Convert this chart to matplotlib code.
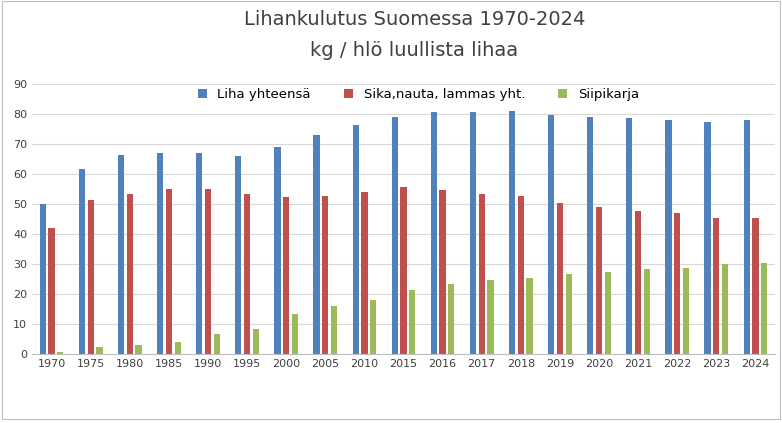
import matplotlib
matplotlib.use("Agg")
import matplotlib.pyplot as plt
import numpy as np

years = ["1970","1975","1980","1985","1990","1995","2000","2005","2010","2015","2016","2017","2018","2019","2020","2021","2022","2023","2024"]
liha = [50.2,61.8,66.5,67.2,67.2,66.0,69.2,73.0,76.3,79.0,80.8,80.8,81.0,79.8,79.0,78.8,78.2,77.3,78.0]
sika = [42.0,51.3,53.4,55.2,55.1,53.3,52.5,52.7,54.0,55.8,54.7,53.5,52.7,50.5,49.0,47.7,47.0,45.5,45.4]
siipi = [0.8,2.3,3.0,4.0,6.8,8.5,13.2,16.0,18.0,21.3,23.4,24.8,25.5,26.7,27.4,28.3,28.8,30.0,30.5]

fig = plt.figure(figsize=(7.82,4.23), dpi=100)
ax = fig.add_axes([0.041, 0.163, 0.95, 0.638])
x = np.arange(len(years))
w = 0.16
ax.bar(x-1.4*w, liha, w, color="#4F81BD", label="Liha yhteensä")
ax.bar(x, sika, w, color="#C0504D", label="Sika,nauta, lammas yht.")
ax.bar(x+1.4*w, siipi, w, color="#9BBB59", label="Siipikarja")
ax.set_ylim(0,90)
ax.set_yticks(range(0,91,10))
ax.set_xlim(-0.5, len(years)-0.5)
ax.set_xticks(x)
ax.set_xticklabels(years)
ax.tick_params(labelsize=8, length=0, colors="#404040")
ax.yaxis.grid(True, color="#D9D9D9", lw=0.8)
ax.set_axisbelow(True)
for s in ["top","right","left"]:
    ax.spines[s].set_visible(False)
ax.spines["bottom"].set_color("#BFBFBF")
ax.legend(loc="upper center", bbox_to_anchor=(0.52,1.03), ncol=3, frameon=False, fontsize=9.5, handlelength=0.7, columnspacing=2.5)
fig.text(0.53, 0.955, "Lihankulutus Suomessa 1970-2024", ha="center", va="center", fontsize=14, color="#404040")
fig.text(0.53, 0.88, "kg / hlö luullista lihaa", ha="center", va="center", fontsize=14, color="#404040")
fig.patches.append(plt.Rectangle((0.002,0.01),0.996,0.988, transform=fig.transFigure, fill=False, ec="#BFBFBF", lw=0.8))
fig.savefig("out.png", dpi=100)
